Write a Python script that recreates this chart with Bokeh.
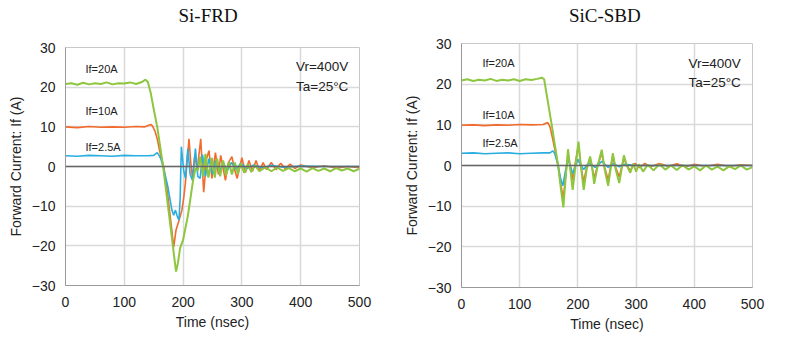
from bokeh.plotting import figure
from bokeh.layouts import row, column
from bokeh.models import FixedTicker, Span, Label
from bokeh.core.properties import value
from bokeh.embed import file_html
from bokeh.resources import INLINE

# ---------------- data: Si-FRD (left) ----------------
frd_g_t = [0, 10, 20, 30, 40, 50, 60, 70, 80, 90, 100, 110, 120, 130, 136, 140, 145, 150, 156, 161, 166, 171, 176,
           181, 185, 188, 191, 195, 200, 204, 208, 213, 217, 221, 225, 229, 234, 238, 243, 249, 254, 258, 263, 268,
           273, 278, 283, 288, 293, 298, 304, 310, 316, 322, 330, 340, 350, 360, 370, 380, 390, 400, 410, 420, 430,
           440, 450, 460, 470, 480, 490, 500]
frd_g_v = [20.8, 21.0, 20.6, 21.1, 20.7, 21.0, 20.8, 21.2, 20.7, 21.0, 20.9, 21.2, 20.8, 21.3, 21.9, 21.3, 18.5, 14.5,
           10.0, 5.0, 0.0, -6.0, -12.0, -18.0, -23.0, -26.5, -24.5, -20.5, -18.5, -15.5, -12.5, -7.5, -3.5, -0.5, -1.0,
           2.5, -2.5, 3.2, -2.8, 2.2, -2.8, 2.0, -2.5, 1.5, -2.3, 1.2, -2.0, 1.0, -1.8, 0.8, -1.6, 0.6, -1.4, 0.3,
           -1.2, -0.2, -1.2, -0.3, -1.1, -0.4, -1.2, -0.5, -1.3, -0.4, -1.1, -0.5, -1.2, -0.4, -1.0, -0.5, -1.2, -0.6]

frd_o_t = [0, 20, 40, 60, 80, 100, 120, 135, 145, 148, 152, 156, 160, 164, 167, 171, 175, 180, 184, 188, 193, 198,
           201, 204, 207, 210, 213, 216, 220, 224, 230, 235, 240, 244, 249, 255, 260, 264, 272, 277, 283, 288, 292,
           300, 306, 312, 318, 324, 330, 336, 342, 350, 358, 366, 374, 382, 390, 400, 420, 440, 460, 480, 500]
frd_o_v = [10.0, 9.8, 10.1, 9.9, 10.0, 9.9, 10.1, 10.0, 10.6, 10.2, 9.0, 7.0, 4.0, 1.5, 0.0, -4.0, -8.5, -15.0, -20.3,
           -16.0, -13.6, -11.0, -8.0, -4.0, 1.5, 7.0, 1.0, -3.0, 3.0, -1.0, 7.0, -6.5, 2.0, 4.0, -3.0, 3.5, -2.0, 2.8,
           -3.5, 1.0, 2.5, -1.0, -3.0, 2.2, -1.5, 1.5, -1.2, 1.5, -1.0, 1.0, -0.8, 1.0, -0.8, 0.8, -0.6, 0.6, -0.5,
           0.4, -0.3, 0.2, -0.4, 0.0, -0.3]

frd_b_t = [0, 20, 40, 60, 80, 100, 120, 140, 150, 156, 159, 162, 166, 170, 174, 178, 181, 184, 187, 190, 193, 195,
           197, 199, 201, 204, 208, 212, 216, 221, 225, 229, 233, 238, 244, 250, 256, 262, 268, 275, 282, 290, 298,
           308, 320, 335, 350, 370, 400, 450, 500]
frd_b_v = [2.7, 2.6, 2.8, 2.7, 2.6, 2.8, 2.7, 2.7, 2.8, 3.5, 2.8, 2.0, 0.0, -2.5, -5.0, -8.5, -11.0, -12.3, -11.0,
           -12.5, -13.5, -8.0, 5.0, 2.0, -1.0, -3.0, 4.5, -2.0, -3.5, 4.5, -2.5, -3.0, 3.0, -2.5, 2.0, -2.0, 1.5, -1.5,
           1.2, -1.2, 1.0, -0.8, 0.8, -0.6, 0.4, -0.4, 0.3, -0.2, 0.1, 0.0, 0.0]

# ---------------- data: SiC-SBD (right) ----------------
sbd_g_t = [0, 10, 20, 30, 40, 50, 60, 70, 80, 90, 100, 110, 120, 130, 138, 142, 148, 155, 161, 166, 171, 175, 179,
           183, 187, 191, 196, 201, 205, 210, 215, 221, 224, 228, 234, 241, 246, 252, 256, 260, 265, 271, 275, 279,
           284, 290, 295, 300, 305, 312, 320, 330, 340, 350, 360, 370, 380, 390, 400, 410, 420, 430, 440, 450, 460,
           470, 480, 490, 500]
sbd_g_v = [20.9, 21.2, 20.8, 21.1, 20.9, 21.3, 20.8, 21.1, 20.9, 21.2, 20.8, 21.2, 21.0, 21.3, 21.6, 21.2, 16.0, 10.0,
           4.5, 0.0, -6.0, -10.3, -3.0, 4.0, -1.0, -6.0, 0.0, 5.9, 0.0, -6.0, -1.0, 2.2, 0.0, -4.5, 0.0, 3.9, -1.0,
           -5.0, -1.0, 3.0, -1.0, -4.3, -1.0, 2.5, 0.0, -1.8, 0.5, -1.5, 0.3, -1.5, 0.2, -1.2, 0.3, -1.0, 0.0, -1.1,
           0.1, -1.0, -0.2, -1.2, 0.0, -1.0, -0.3, -1.2, -0.2, -0.9, 0.0, -1.0, -0.4]

sbd_o_t = [0, 20, 40, 60, 80, 100, 120, 140, 148, 152, 156, 161, 166, 171, 175, 179, 183, 187, 191, 196, 201, 205,
           210, 215, 221, 228, 234, 241, 246, 252, 256, 260, 265, 271, 275, 279, 284, 290, 298, 306, 315, 325, 340,
           355, 370, 385, 400, 420, 440, 460, 480, 500]
sbd_o_v = [9.9, 10.0, 9.8, 10.0, 9.9, 10.1, 10.0, 10.1, 10.6, 9.5, 7.0, 3.5, 0.0, -5.0, -8.0, -2.5, 3.0, -0.5, -3.5,
           1.0, 5.0, 0.0, -4.0, -0.5, 1.8, -3.0, 0.0, 3.0, -0.5, -3.5, -0.5, 2.2, -0.5, -2.8, -0.5, 1.8, 0.0, -1.2,
           0.5, -0.5, 0.5, -0.3, 0.5, -0.2, 0.4, -0.3, 0.3, -0.2, 0.3, -0.2, 0.2, 0.0]

sbd_b_t = [0, 20, 40, 60, 80, 100, 120, 140, 152, 157, 160, 163, 166, 170, 174, 179, 183, 187, 191, 196, 200, 205,
           210, 215, 220, 230, 241, 252, 260, 271, 280, 300, 350, 400, 450, 500]
sbd_b_v = [3.0, 3.1, 2.9, 3.0, 3.1, 2.9, 3.0, 3.1, 3.1, 3.6, 3.0, 1.5, 0.0, -3.0, -5.0, -1.0, 1.5, 0.0, -2.0, 0.0,
           1.5, 0.0, -1.0, 0.0, 0.5, -0.5, 1.0, -0.5, 0.5, -0.3, 0.3, 0.0, 0.0, 0.0, 0.0, 0.0]

titles = ["Si-FRD", "SiC-SBD"]
x_ticks = [0, 100, 200, 300, 400, 500]
y_ticks = [-30, -20, -10, 0, 10, 20, 30]
labels_if = ["If=20A", "If=10A", "If=2.5A"]
cond_labels = ["Vr=400V", "Ta=25°C"]

GREEN = "#8dc63f"
ORANGE = "#f26a2c"
BLUE = "#2aaee0"
SANS = "Liberation Sans"
TITLE_H = 30


def make_title(text, cx):
    t = figure(width=400, height=TITLE_H, x_range=(0, 400), y_range=(0, TITLE_H),
               x_axis_type=None, y_axis_type=None, output_backend="svg", toolbar_location=None,
               min_border=0, min_border_left=0, min_border_right=0, min_border_top=0, min_border_bottom=0)
    t.grid.visible = False
    t.outline_line_color = None
    t.text(x=[cx], y=[TITLE_H - 15], text=[text], text_font=value("Liberation Serif"),
           text_font_size="19px", text_color="#111111", text_align="center", text_baseline="middle")
    return t


def make_fig(series, borders, if_pos, cond_pos):
    left, right, top, bottom, fw, fh = borders
    p = figure(width=left + fw + right, height=top + fh + bottom,
               x_range=(0, 500), y_range=(-30, 30),
               output_backend="svg", toolbar_location=None,
               min_border_left=left, min_border_right=right,
               min_border_top=top, min_border_bottom=bottom)

    for ax in (p.xaxis, p.yaxis):
        ax.major_label_text_font = SANS
        ax.major_label_text_font_size = "14px"
        ax.major_label_text_color = "#222222"
        ax.axis_label_text_font = SANS
        ax.axis_label_text_font_size = "14px"
        ax.axis_label_text_font_style = "normal"
        ax.axis_label_text_color = "#222222"
        ax.major_tick_out = 0
        ax.major_tick_in = 0
        ax.minor_tick_out = 0
        ax.minor_tick_in = 0
        ax.axis_line_color = "#999999"
    p.xaxis.ticker = FixedTicker(ticks=x_ticks)
    p.yaxis.ticker = FixedTicker(ticks=y_ticks)
    p.xaxis.axis_label = "Time (nsec)"
    p.yaxis.axis_label = "Forward Current: If (A)"
    p.xaxis.major_label_standoff = 11
    p.xaxis.axis_label_standoff = 4
    p.yaxis.major_label_standoff = 10
    p.yaxis.axis_label_standoff = 5

    p.xgrid.grid_line_color = "#d9d9d9"
    p.ygrid.grid_line_color = "#d9d9d9"
    p.xgrid.grid_line_width = 1.5
    p.ygrid.grid_line_width = 1.5
    p.outline_line_color = "#c8c8c8"
    p.background_fill_color = "white"
    p.border_fill_color = "white"

    p.add_layout(Span(location=0, dimension="width", line_color="#666666", line_width=1.5))

    (ot, ov), (bt, bv), (gt, gv) = series
    p.line(ot, ov, line_color=ORANGE, line_width=1.6)
    p.line(bt, bv, line_color=BLUE, line_width=1.6)
    p.line(gt, gv, line_color=GREEN, line_width=2.0)

    for txt, (x, y) in zip(labels_if, if_pos):
        p.add_layout(Label(x=x, y=y, text=txt, text_font=SANS, text_font_size="11px",
                           text_color="#222222", text_baseline="middle", text_align="left"))
    for txt, (x, y) in zip(cond_labels, cond_pos):
        p.add_layout(Label(x=x, y=y, text=txt, text_font=SANS, text_font_size="13.5px",
                           text_color="#222222", text_baseline="middle", text_align="right"))
    return p


p1 = make_fig([(frd_o_t, frd_o_v), (frd_b_t, frd_b_v), (frd_g_t, frd_g_v)],
              (65, 41, 47 - TITLE_H, 60, 294, 238),
              [(34, 24.7), (34, 14.1), (34, 4.8)],
              [(481, 25.2), (481, 20.2)])
p2 = make_fig([(sbd_o_t, sbd_o_v), (sbd_b_t, sbd_b_v), (sbd_g_t, sbd_g_v)],
              (49, 48, 43 - TITLE_H, 58, 303, 244),
              [(36, 25.2), (36, 12.4), (36, 5.6)],
              [(480, 25.2), (480, 20.5)])
t1 = make_title(titles[0], 194)
t2 = make_title(titles[1], 197)

layout = row(column(t1, p1), column(t2, p2))
open("out.html", "w").write(file_html(layout, INLINE))
